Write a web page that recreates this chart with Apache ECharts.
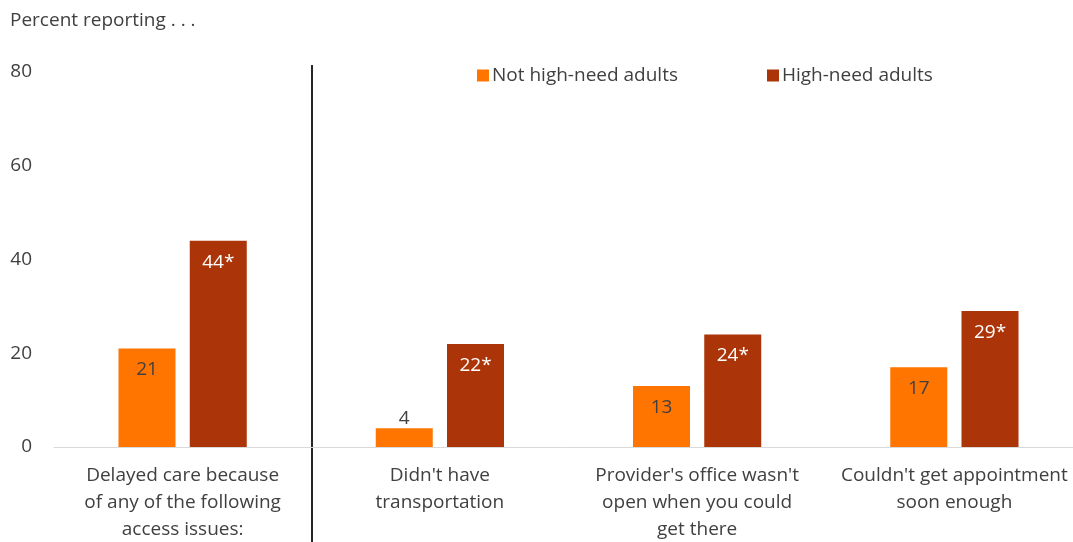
<!DOCTYPE html>
<html>
<head>
<meta charset="utf-8">
<script src="https://cdn.jsdelivr.net/npm/echarts@6/dist/echarts.min.js"></script>
<style>
  html, body { margin: 0; padding: 0; background: #fff; }
  #chart { width: 1073px; height: 542px; }
</style>
</head>
<body>
<div id="chart"></div>
<script>
// Delayed care and access barriers, percent reporting
const categories = [
  "Delayed care because\nof any of the following\naccess issues:",
  "Didn't have\ntransportation",
  "Provider's office wasn't\nopen when you could\nget there",
  "Couldn't get appointment\nsoon enough"
];
const notHighNeed = [21, 4, 13, 17];
const highNeed = [44, 22, 24, 29];
const highNeedLabels = ["44*", "22*", "24*", "29*"];
const yTicks = [0, 20, 40, 60, 80];

const FONT = "'Open Sans', 'Noto Sans', sans-serif";
const TEXT = "#404040";
const ORANGE = "#FF7500";
const RUST = "#AB3508";
const FS = 19;

const chart = echarts.init(document.getElementById('chart'), null, { renderer: 'canvas' });

function labelFor(values, color, texts) {
  // small bars carry their value above the bar, taller bars inside at the top
  return values.map((v, i) => ({
    value: v,
    label: {
      show: true,
      position: v < 8 ? 'top' : 'insideTop',
      distance: v < 8 ? 0 : 12,
      color: v < 8 ? TEXT : color,
      fontSize: FS,
      fontFamily: FONT,
      formatter: texts ? texts[i] : String(v)
    }
  }));
}

chart.setOption({
  animation: false,
  textStyle: { fontFamily: FONT },
  title: {
    text: 'Percent reporting . . .',
    left: 5, top: 6,
    textStyle: { fontSize: FS, fontWeight: 'normal', color: TEXT, fontFamily: FONT }
  },
  legend: {
    top: 61, left: 472,
    itemWidth: 12, itemHeight: 12, itemGap: 89,
    icon: 'rect',
    textStyle: { fontSize: FS, color: TEXT, fontFamily: FONT, padding: [0, 0, 0, -2] },
    data: ['Not high-need adults', 'High-need adults']
  },
  grid: { left: 54, right: -10, top: 72, bottom: 95, containLabel: false, outerBoundsMode: 'none' },
  xAxis: {
    type: 'category',
    data: categories,
    axisLine: { lineStyle: { color: '#D9D9D9', width: 1 } },
    axisTick: { show: false },
    axisLabel: {
      color: TEXT, fontSize: FS, fontFamily: FONT,
      lineHeight: 27, margin: 15, interval: 0, align: 'center'
    }
  },
  yAxis: {
    type: 'value',
    min: yTicks[0], max: yTicks[yTicks.length - 1], interval: 20,
    splitLine: { show: false },
    axisLine: { show: false },
    axisTick: { show: false },
    axisLabel: { color: TEXT, fontSize: FS, fontFamily: FONT, margin: 22 }
  },
  series: [
    {
      name: 'Not high-need adults', type: 'bar',
      barWidth: 57, barGap: '25%',
      itemStyle: { color: ORANGE },
      data: labelFor(notHighNeed, TEXT)
    },
    {
      name: 'High-need adults', type: 'bar',
      barWidth: 57,
      itemStyle: { color: RUST },
      data: labelFor(highNeed, '#FFFFFF', highNeedLabels)
    }
  ]
});

// divider between the summary bar group and the individual issues
const x0 = chart.convertToPixel({ xAxisIndex: 0 }, 0);
const x1 = chart.convertToPixel({ xAxisIndex: 0 }, 1);
const xs = Math.round((x0 + x1) / 2) + 1;
chart.setOption({
  graphic: [{
    type: 'line',
    shape: { x1: xs, y1: 65, x2: xs, y2: 542 },
    style: { stroke: '#262626', lineWidth: 2 }
  }]
});
</script>
</body>
</html>
